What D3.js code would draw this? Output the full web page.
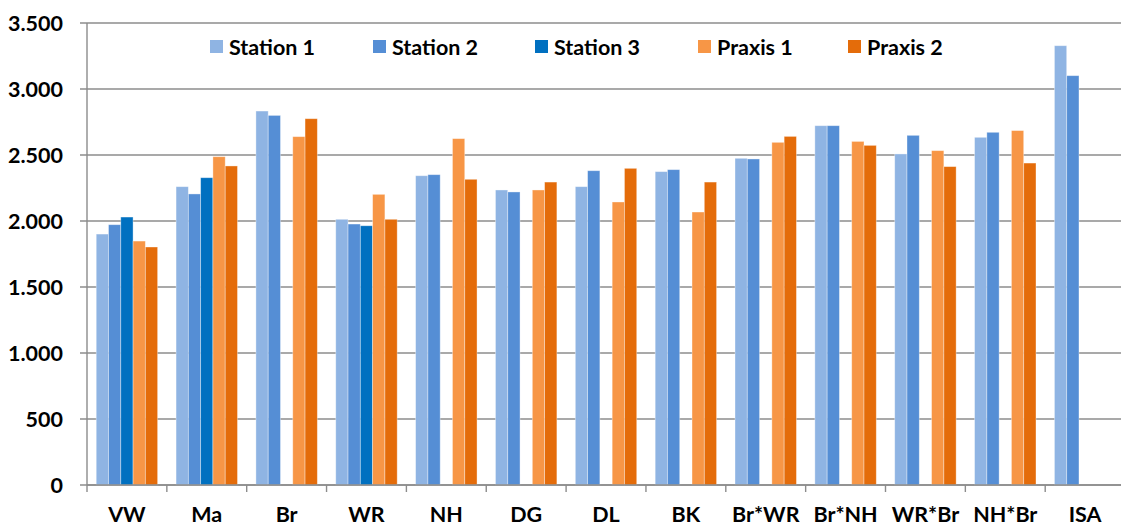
<!DOCTYPE html>
<html><head><meta charset="utf-8">
<script src="https://cdn.jsdelivr.net/npm/d3@7/dist/d3.min.js"></script>
<style>
html,body{margin:0;padding:0;background:#fff;}
svg{display:block;font-family:Lato,"Open Sans",sans-serif;font-weight:bold;}
</style></head>
<body><svg id="c" width="1121" height="529"></svg>
<script>
const categories = ["VW","Ma","Br","WR","NH","DG","DL","BK","Br*WR","Br*NH","WR*Br","NH*Br","ISA"];
const seriesNames = ["Station 1","Station 2","Station 3","Praxis 1","Praxis 2"];
const station1 = [1901,2260,2833,2013,2343,2235,2260,2374,2475,2722,2508,2634,3328];
const station2 = [1972,2205,2800,1977,2351,2220,2381,2389,2470,2722,2649,2672,3101];
const station3 = [2030,2328,null,1964,null,null,null,null,null,null,null,null,null];
const praxis1  = [1848,2487,2639,2202,2624,2235,2144,2068,2596,2603,2533,2685,null];
const praxis2  = [1803,2417,2775,2013,2316,2295,2399,2295,2641,2573,2412,2439,null];
const yTicks = [0,500,1000,1500,2000,2500,3000,3500];
const colors = ["#8FB4E3","#558ED5","#0070C0","#F79646","#E46C0A"];

(function(){
const seriesValues = [station1,station2,station3,praxis1,praxis2];
const svg = d3.select("#c");
const pLeft = 87, pTop = 23, pBottom = 485;
const bandW = 79.85;
const fs = 21.5;
const x0 = d3.scaleBand().domain(categories).range([pLeft, pLeft + bandW*categories.length]).padding(0);
const y = d3.scaleLinear().domain([0,3500]).range([pBottom, pTop]);
const bw = x0.bandwidth();
const padFrac = 0.75/6.5;
const x1 = d3.scaleBand().domain(seriesNames).range([bw*padFrac, bw*(1-padFrac)]).padding(0);

svg.append("g").selectAll("line").data(yTicks).join("line")
  .attr("x1", pLeft-7).attr("x2", 1121)
  .attr("y1", d=>y(d)).attr("y2", d=>y(d))
  .attr("stroke","#8c8c8c").attr("stroke-width",1.4);

svg.append("g").selectAll("text").data(yTicks).join("text")
  .attr("x", 63).attr("y", d=>y(d)).attr("dy","0.36em")
  .attr("text-anchor","end").attr("font-size",fs).attr("fill","#000")
  .text(d=>d3.format(",")(d).replace(/,/g,"."));

const flat = [];
categories.forEach((c,i)=>seriesNames.forEach((s,j)=>{
  const v = seriesValues[j][i];
  if(v!=null) flat.push({c,s,v,j});
}));
svg.append("g").selectAll("rect").data(flat).join("rect")
  .attr("x", d=>x0(d.c)+x1(d.s))
  .attr("width", x1.bandwidth())
  .attr("y", d=>y(d.v))
  .attr("height", d=>y(0)-y(d.v))
  .attr("fill", d=>colors[d.j])
  .attr("stroke","#ffffff").attr("stroke-opacity",0.45).attr("stroke-width",0.8);

svg.append("line").attr("x1",pLeft).attr("x2",pLeft).attr("y1",pTop).attr("y2",pBottom)
  .attr("stroke","#8c8c8c").attr("stroke-width",1.4);
svg.append("line").attr("x1",pLeft).attr("x2",1121).attr("y1",pBottom).attr("y2",pBottom)
  .attr("stroke","#8c8c8c").attr("stroke-width",1.4);
svg.append("g").selectAll("line").data(categories).join("line")
  .attr("x1", d=>x0(d)).attr("x2", d=>x0(d))
  .attr("y1", pBottom).attr("y2", pBottom+7)
  .attr("stroke","#8c8c8c").attr("stroke-width",1.4);
svg.append("g").selectAll("text").data(categories).join("text")
  .attr("x", d=>x0(d)+bw/2).attr("y", 522)
  .attr("text-anchor","middle").attr("font-size",fs).attr("fill","#000")
  .text(d=>d);

const legX = [210,373,535,698,848];
const lg = svg.append("g").selectAll("g").data(seriesNames).join("g")
  .attr("transform",(d,i)=>`translate(${legX[i]},40)`);
lg.append("rect").attr("width",13).attr("height",13).attr("fill",(d,i)=>colors[i]);
lg.append("text").attr("x",19).attr("y",14.5).attr("font-size",fs).attr("fill","#000").text(d=>d);
})();
</script></body></html>
